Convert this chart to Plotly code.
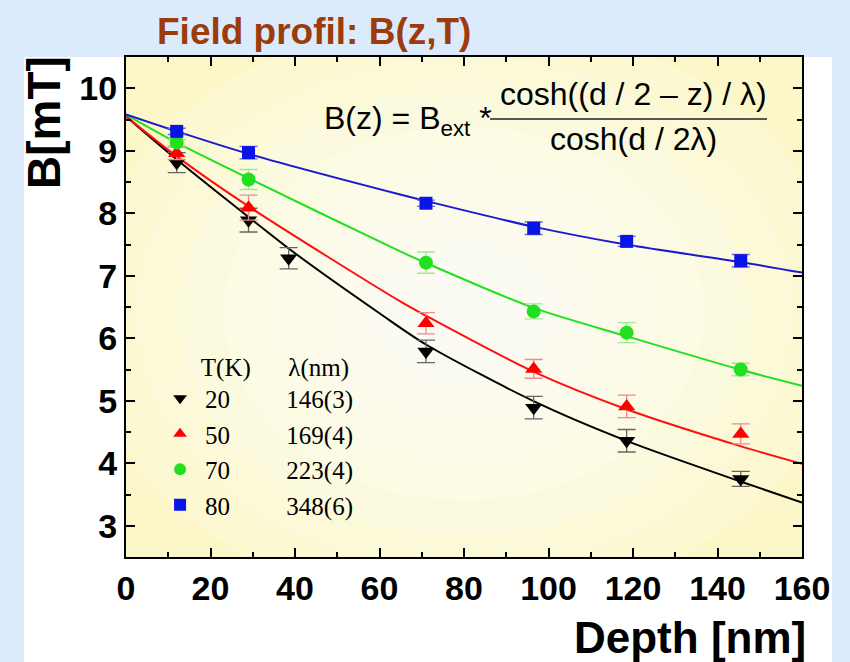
import plotly.graph_objects as go

# ---------------- data ----------------
depth = [12, 29, 71, 96.5, 118.5, 145.5]
depth_20K = [12, 29, 38.5, 71, 96.5, 118.5, 145.5]

b_20K = [8.81, 7.89, 7.28, 5.79, 4.89, 4.36, 3.75]
e_20K = [0.16, 0.19, 0.17, 0.18, 0.18, 0.18, 0.12]
b_50K = [8.96, 8.09, 6.24, 5.51, 4.91, 4.47]
e_50K = [0.10, 0.20, 0.17, 0.15, 0.18, 0.16]
b_70K = [9.13, 8.54, 7.21, 6.43, 6.09, 5.50]
e_70K = [0.05, 0.16, 0.17, 0.12, 0.16, 0.10]
b_80K = [9.31, 8.97, 8.16, 7.76, 7.55, 7.24]
e_80K = [0.05, 0.10, 0.05, 0.10, 0.08, 0.10]

# fitted curves
fit_x_20K = [0, 12, 29, 40, 60, 71, 96.6, 118.8, 145.8, 160]
fit_y_20K = [9.55, 8.86, 7.94, 7.36, 6.40, 5.90, 4.99, 4.35, 3.70, 3.37]
fit_x_50K = [0, 12, 29, 64.9, 71, 96.3, 118.6, 145.6, 160]
fit_y_50K = [9.55, 8.91, 8.11, 6.59, 6.36, 5.47, 4.86, 4.27, 3.99]
fit_x_70K = [0, 12, 29, 64.9, 70.8, 96.3, 118.6, 145.3, 160]
fit_y_70K = [9.58, 9.13, 8.56, 7.39, 7.21, 6.49, 6.03, 5.50, 5.24]
fit_x_80K = [0, 12, 29, 64.9, 70.8, 96.1, 118.3, 145.3, 160]
fit_y_80K = [9.58, 9.31, 8.95, 8.30, 8.20, 7.79, 7.50, 7.22, 7.05]

temps = ["20", "50", "70", "80"]
lambdas = ["146(3)", "169(4)", "223(4)", "348(6)"]

x_ticks = [0, 20, 40, 60, 80, 100, 120, 140, 160]
y_ticks = [3, 4, 5, 6, 7, 8, 9, 10]

# ---------------- styles ----------------
SANS = "Liberation Sans, Arial, sans-serif"
SERIF = "Liberation Serif, Times New Roman, serif"
NB = "\u00a0"

series = [
    dict(x=depth_20K, y=b_20K, e=e_20K, fx=fit_x_20K, fy=fit_y_20K,
         color="#000000", ecolor="#666666", symbol="triangle-down", size=15),
    dict(x=depth, y=b_50K, e=e_50K, fx=fit_x_50K, fy=fit_y_50K,
         color="#ff0000", ecolor="#f08a8a", symbol="triangle-up", size=15),
    dict(x=depth, y=b_70K, e=e_70K, fx=fit_x_70K, fy=fit_y_70K,
         color="#22e01e", ecolor="#9ee89a", symbol="circle", size=14),
    dict(x=depth, y=b_80K, e=e_80K, fx=fit_x_80K, fy=fit_y_80K,
         color="#0a14e6", ecolor="#6a70c8", symbol="square", size=13),
]
line_colors = ["#000000", "#ff1010", "#22e01e", "#1a1ad0"]

fig = go.Figure()

for s, lc in zip(series, line_colors):
    fig.add_trace(go.Scatter(
        x=s["fx"], y=s["fy"], mode="lines", line=dict(color=lc, width=2, shape="spline", smoothing=0.8),
        showlegend=False, hoverinfo="skip"))

for s, t, lam in zip(series, temps, lambdas):
    fig.add_trace(go.Scatter(
        x=s["x"], y=s["y"], mode="markers",
        name=t + NB * 9 + lam,
        marker=dict(symbol=s["symbol"], size=s["size"], color=s["color"], line=dict(width=0)),
        error_y=dict(type="data", array=s["e"], visible=True, color=s["ecolor"], thickness=1.3, width=9),
    ))

# background: white panel, yellow plot area, whitish radial glow
shapes = [
    dict(type="rect", xref="paper", yref="paper", x0=-0.151, x1=1.0444, y0=-0.23, y1=1.0,
         fillcolor="#ffffff", line=dict(width=0), layer="below"),
    dict(type="rect", xref="paper", yref="paper", x0=0, x1=1, y0=0, y1=1,
         fillcolor="#fcf7c8", line=dict(width=0), layer="below"),
]
cx, cy = 80, 6.4
for r in [380, 330, 285, 240, 200, 165, 130, 95, 60]:
    rx = r / 4.225
    ry = r * 0.78 / 62.5
    shapes.append(dict(type="circle", xref="x", yref="y", x0=cx - rx, x1=cx + rx, y0=cy - ry, y1=cy + ry,
                       fillcolor="rgba(255,255,255,0.17)", line=dict(width=0), layer="below"))
# fraction bar of the formula
shapes.append(dict(type="line", xref="paper", yref="paper", x0=0.5385, x1=0.9482, y0=0.876, y1=0.876,
                   line=dict(color="#222222", width=1.5)))

annotations = [
    dict(text="Field profil: B(z,T)", xref="paper", yref="paper", x=0.0429, y=1.05,
         xanchor="left", yanchor="middle", showarrow=False,
         font=dict(family=SANS, size=37, color="#9c3c0c", weight="bold")),
    dict(text="B[mT]", xref="paper", yref="paper", x=-0.1213, y=0.868, textangle=-90,
         xanchor="center", yanchor="middle", showarrow=False,
         font=dict(family=SANS, size=46, color="#000000", weight="bold")),
    dict(text="Depth [nm]", xref="paper", yref="paper", x=1.0089, y=-0.16,
         xanchor="right", yanchor="middle", showarrow=False,
         font=dict(family=SANS, size=44, color="#000000", weight="bold")),
    dict(text="B(z) = B<sub>ext</sub> *", xref="paper", yref="paper", x=0.29, y=0.874,
         xanchor="left", yanchor="middle", showarrow=False,
         font=dict(family=SANS, size=32, color="#000000")),
    dict(text="cosh((d / 2 \u2013 z) / \u03bb)", xref="paper", yref="paper", x=0.75, y=0.925,
         xanchor="center", yanchor="middle", showarrow=False,
         font=dict(family=SANS, size=32, color="#000000")),
    dict(text="cosh(d / 2\u03bb)", xref="paper", yref="paper", x=0.75, y=0.836,
         xanchor="center", yanchor="middle", showarrow=False,
         font=dict(family=SANS, size=32, color="#000000")),
]

axis_common = dict(
    showline=True, linewidth=2, linecolor="#000000", mirror="ticks",
    ticks="inside", ticklen=9, tickwidth=1.5, tickcolor="#000000",
    showgrid=False, zeroline=False,
    tickfont=dict(family=SANS, size=34, color="#000000", weight="bold"),
)

fig.update_layout(
    width=850, height=662,
    margin=dict(l=126, r=48, t=57, b=105),
    paper_bgcolor="#dcebfc",
    plot_bgcolor="rgba(0,0,0,0)",
    shapes=shapes,
    annotations=annotations,
    showlegend=True,
    legend=dict(
        x=0.043, y=0.428, xanchor="left", yanchor="top", itemwidth=40,
        bgcolor="rgba(0,0,0,0)", borderwidth=0, itemsizing="constant",
        font=dict(family=SERIF, size=25, color="#000000"),
        title=dict(text=NB * 7 + "T(K)" + NB * 6 + "\u03bb(nm)",
                   font=dict(family=SERIF, size=25, color="#000000")),
    ),
    xaxis=dict(range=[0, 160], tickvals=x_ticks, ticklabelstandoff=0,
               minor=dict(ticks="inside", ticklen=5, dtick=10, tick0=0, tickwidth=1.5, tickcolor="#000000"),
               **axis_common),
    yaxis=dict(range=[2.5, 10.5], tickvals=y_ticks, ticklabelstandoff=0,
               minor=dict(ticks="inside", ticklen=5, dtick=0.5, tick0=0, tickwidth=1.5, tickcolor="#000000"),
               **axis_common),
)

fig.write_html("out.html", config={"displayModeBar": False},
               post_script="document.body.style.margin='0';")
